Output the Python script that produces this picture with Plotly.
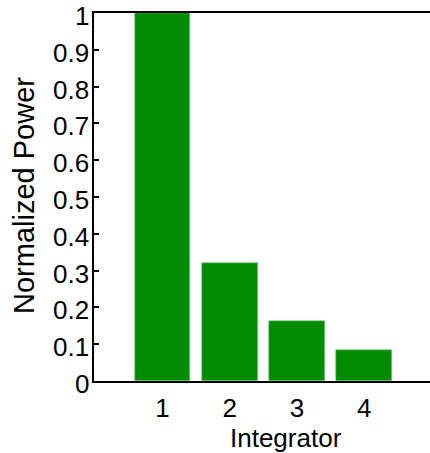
import plotly.graph_objects as go

integrators = [1, 2, 3, 4]
power = [1.0, 0.32, 0.163, 0.085]
y_ticks = [0, 0.1, 0.2, 0.3, 0.4, 0.5, 0.6, 0.7, 0.8, 0.9, 1]
y_labels = ["0", "0.1", "0.2", "0.3", "0.4", "0.5", "0.6", "0.7", "0.8", "0.9", "1"]

fig = go.Figure()
fig.add_trace(go.Bar(
    x=integrators, y=power, width=0.83,
    marker=dict(color="#008c00", line=dict(width=0.6, color="#8fd08f")),
))

fam = "Liberation Sans, Arial, sans-serif"
font = dict(family=fam, size=26, color="black")

L, T, B, W, H = 94, 13, 72, 430, 453
pw = W - L
ph = H - T - B

annotations = [
    dict(text=lab, xref="paper", yref="y", x=(91 - L) / pw, y=v,
         xanchor="right", yanchor="middle", yshift=-3, showarrow=False, font=font)
    for v, lab in zip(y_ticks, y_labels)
]
annotations += [
    dict(text="Integrator", xref="paper", yref="paper",
         x=(286 - L) / pw, y=-(437.5 - (T + ph)) / ph, xanchor="center", yanchor="middle",
         showarrow=False, font=font),
    dict(text="Normalized Power", xref="paper", yref="paper",
         x=(23.5 - L) / pw, y=(T + ph - 195.5) / ph, xanchor="center", yanchor="middle",
         textangle=-90, showarrow=False, font=dict(family=fam, size=29, color="black")),
]

fig.update_layout(
    width=W, height=H,
    margin=dict(l=L, r=0, t=T, b=B),
    paper_bgcolor="white", plot_bgcolor="white",
    font=font, showlegend=False, bargap=0,
    xaxis=dict(
        range=[-0.02, 4.98], tickvals=integrators, ticktext=[str(v) for v in integrators],
        showline=True, linecolor="black", linewidth=2, mirror=True,
        ticks="", showgrid=False, zeroline=False, layer="below traces",
        tickfont=font, ticklabelstandoff=3,
    ),
    yaxis=dict(
        range=[0, 1], tickvals=y_ticks, showticklabels=False,
        showline=True, linecolor="black", linewidth=2, mirror=False,
        ticks="inside", ticklen=5, tickwidth=2, tickcolor="black",
        showgrid=False, zeroline=False,
    ),
    annotations=annotations,
)
fig.write_html("out.html")
